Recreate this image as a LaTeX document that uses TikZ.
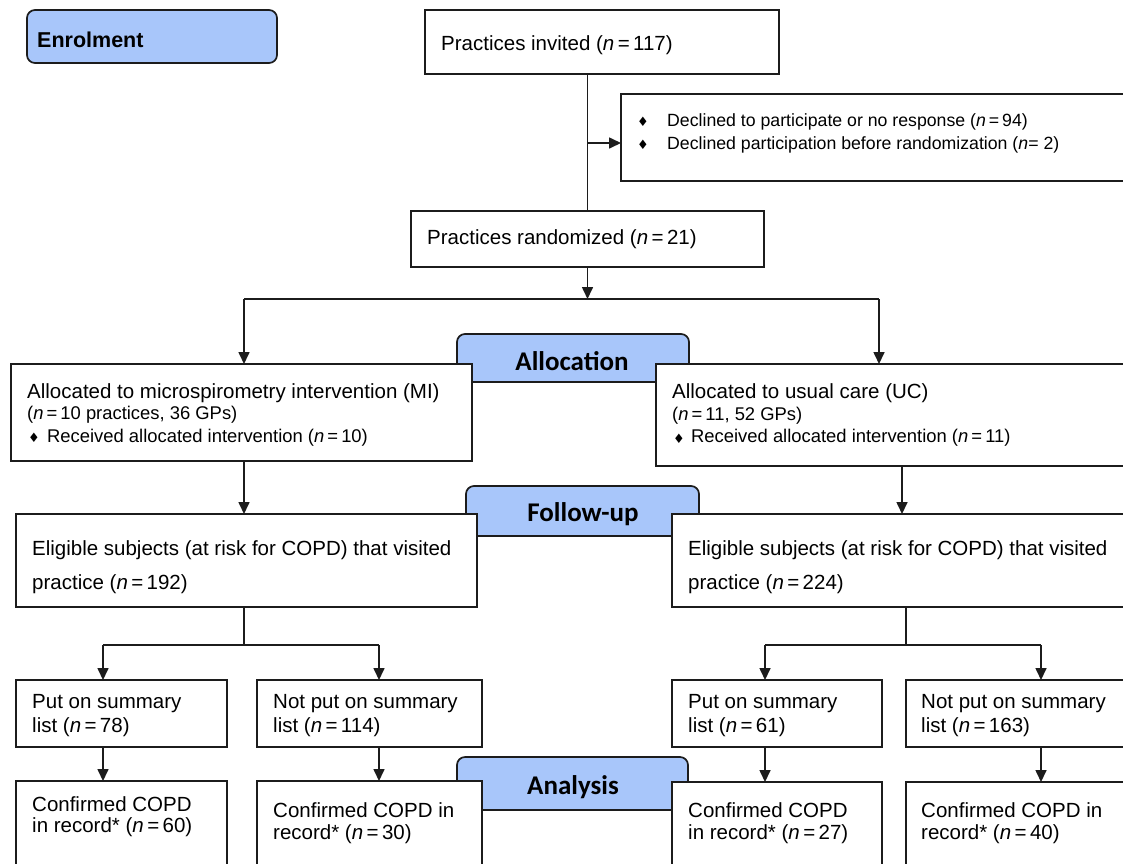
\documentclass[tikz,border=0pt]{standalone}
\usepackage{fontspec}
\setmainfont{Liberation Sans}
\newfontfamily\hdrfont{Carlito}
\newfontfamily\symfont{DejaVu Sans}
\usetikzlibrary{arrows.meta}
\definecolor{hdrblue}{RGB}{168,198,250}
\definecolor{linecol}{RGB}{28,28,28}
\newcommand{\nval}[1]{(\textit{n}\,=\,#1)}
\begin{document}
\begin{tikzpicture}[x=1pt,y=-1pt,
  box/.style={draw=linecol, line width=1.7pt, fill=white, rectangle, inner sep=0pt, outer sep=0pt, anchor=north west},
  hdr/.style={draw=linecol, line width=1.7pt, fill=hdrblue, rectangle, rounded corners=8pt, inner sep=0pt, outer sep=0pt, anchor=north west},
  conn/.style={draw=linecol, line width=1.6pt},
  arr/.style={conn, -{Triangle[length=12pt,width=11pt]}},
  t20/.style={anchor=west, inner sep=0pt, font=\fontsize{20.5}{24}\selectfont},
  t18/.style={anchor=west, inner sep=0pt, font=\fontsize{18.4}{22}\selectfont},
  t17/.style={anchor=west, inner sep=0pt, font=\fontsize{17.7}{21}\selectfont},
  bul/.style={anchor=center, inner sep=0pt, font=\symfont\fontsize{13}{13}\selectfont},
  htxt/.style={anchor=base, inner sep=0pt, font=\hdrfont\bfseries\fontsize{27}{30}\selectfont}
]
\useasboundingbox (0,0) rectangle (1123,863);
\clip (0,0) rectangle (1123,863);
\fill[white] (0,0) rectangle (1123,863);

% ---- stage headers ----
\node[hdr, minimum width=250, minimum height=53] (enrol) at (27,10) {};
\node[anchor=west, inner sep=0pt, font=\fontsize{21.5}{24}\selectfont\bfseries] (enrolT) at (37,40) {Enrolment};
\node[hdr, minimum width=232, minimum height=48] (alloc) at (457,334) {};
\node[hdr, minimum width=233, minimum height=50] (follow) at (466,486) {};
\node[hdr, minimum width=231, minimum height=53] (analysis) at (457,757) {};

% ---- boxes ----
\node[box, minimum width=354, minimum height=64] (invited) at (425,10) {};
\node[box, minimum width=530, minimum height=87] (declined) at (621,94) {};
\node[box, minimum width=353, minimum height=56] (random) at (411,211) {};
\node[box, minimum width=461, minimum height=97] (mi) at (11,364) {};
\node[box, minimum width=490, minimum height=102] (uc) at (656,364) {};
\node[box, minimum width=461, minimum height=93] (eligMI) at (16,514) {};
\node[box, minimum width=480, minimum height=93] (eligUC) at (672,514) {};
\node[box, minimum width=211, minimum height=67] (putMI) at (16,680) {};
\node[box, minimum width=225, minimum height=67] (notMI) at (257,680) {};
\node[box, minimum width=210, minimum height=67] (putUC) at (672,680) {};
\node[box, minimum width=240, minimum height=67] (notUC) at (906,680) {};
\node[box, minimum width=211, minimum height=120] (confA) at (16,781) {};
\node[box, minimum width=225, minimum height=120] (confB) at (257,781) {};
\node[box, minimum width=210, minimum height=120] (confC) at (672,782) {};
\node[box, minimum width=240, minimum height=120] (confD) at (906,782) {};

% ---- header texts ----
\node[htxt] (allocT) at (572,370) {Allocation};
\node[htxt] (followT) at (583,521) {Follow-up};
\node[htxt] (analysisT) at (573,794) {Analysis};

% ---- box texts ----
\node[t20] (invitedT) at (441,45) {Practices invited \nval{117}};
\node[bul] (declB1) at (643,122) {♦};
\node[t17] (declT1) at (667,122) {Declined to participate or no response \nval{94}};
\node[bul] (declB2) at (643,144.5) {♦};
\node[t17] (declT2) at (667,144.5) {Declined participation before randomization (\textit{n}= 2)};
\node[t20] (randomT) at (427,239) {Practices randomized \nval{21}};

\node[t20] (miT1) at (27,393) {Allocated to microspirometry intervention (MI)};
\node[t18] (miT2) at (27,414.5) {(\textit{n}\,=\,10 practices, 36 GPs)};
\node[bul] (miB) at (34,438) {♦};
\node[t18] (miT3) at (47,437.5) {Received allocated intervention \nval{10}};

\node[t20] (ucT1) at (672,393) {Allocated to usual care (UC)};
\node[t18] (ucT2) at (672,415.5) {(\textit{n}\,=\,11, 52 GPs)};
\node[bul] (ucB) at (679,438.5) {♦};
\node[t18] (ucT3) at (691,438) {Received allocated intervention \nval{11}};

\node[t20] (eligMIT1) at (32,550) {Eligible subjects (at risk for COPD) that visited};
\node[t20] (eligMIT2) at (32,584) {practice \nval{192}};
\node[t20] (eligUCT1) at (688,550) {Eligible subjects (at risk for COPD) that visited};
\node[t20] (eligUCT2) at (688,584) {practice \nval{224}};

\node[t20] (putMIT1) at (32,704) {Put on summary};
\node[t20] (putMIT2) at (32,727) {list \nval{78}};
\node[t20] (notMIT1) at (273,704) {Not put on summary};
\node[t20] (notMIT2) at (273,727) {list \nval{114}};
\node[t20] (putUCT1) at (688,704) {Put on summary};
\node[t20] (putUCT2) at (688,727) {list \nval{61}};
\node[t20] (notUCT1) at (921,704) {Not put on summary};
\node[t20] (notUCT2) at (921,727) {list \nval{163}};

\node[t20] (confAT1) at (32,804.5) {Confirmed COPD};
\node[t20] (confAT2) at (32,827) {in record* \nval{60}};
\node[t20] (confBT1) at (273,810.5) {Confirmed COPD in};
\node[t20] (confBT2) at (273,834) {record* \nval{30}};
\node[t20] (confCT1) at (688,810.5) {Confirmed COPD};
\node[t20] (confCT2) at (688,834) {in record* \nval{27}};
\node[t20] (confDT1) at (921,810.5) {Confirmed COPD in};
\node[t20] (confDT2) at (921,834) {record* \nval{40}};

% ---- junction coordinates ----
\coordinate (exclJ) at (587.5,143);
\coordinate (randJ) at (587.5,299);
\coordinate (splitL) at (244,299);
\coordinate (splitR) at (879,299);
\coordinate (ucLane) at (902,490);
\coordinate (jL) at (244,645);
\coordinate (jR) at (906,645);
\coordinate (laneA) at (103,645);
\coordinate (laneB) at (379,645);
\coordinate (laneC) at (765,645);
\coordinate (laneD) at (1041,645);

% ---- connectors ----
\draw[conn] (random.north |- invited.south) -- (random.north);
\draw[arr] (exclJ) -- (exclJ -| declined.west);
\draw[arr] (random.south) -- (randJ);
\draw[conn] (splitL) -- (splitR);
\draw[arr] (splitL) -- (splitL |- mi.north);
\draw[arr] (splitR) -- (splitR |- uc.north);
\draw[arr] (splitL |- mi.south) -- (splitL |- eligMI.north);
\draw[arr] (ucLane |- uc.south) -- (ucLane |- eligUC.north);

\draw[conn] (jL |- eligMI.south) -- (jL);
\draw[conn] (laneA) -- (laneB);
\draw[arr] (laneA) -- (laneA |- putMI.north);
\draw[arr] (laneB) -- (laneB |- notMI.north);
\draw[conn] (jR |- eligUC.south) -- (jR);
\draw[conn] (laneC) -- (laneD);
\draw[arr] (laneC) -- (laneC |- putUC.north);
\draw[arr] (laneD) -- (laneD |- notUC.north);

\draw[arr] (laneA |- putMI.south) -- (laneA |- confA.north);
\draw[arr] (laneB |- notMI.south) -- (laneB |- confB.north);
\draw[arr] (laneC |- putUC.south) -- (laneC |- confC.north);
\draw[arr] (laneD |- notUC.south) -- (laneD |- confD.north);
\end{tikzpicture}
\end{document}
